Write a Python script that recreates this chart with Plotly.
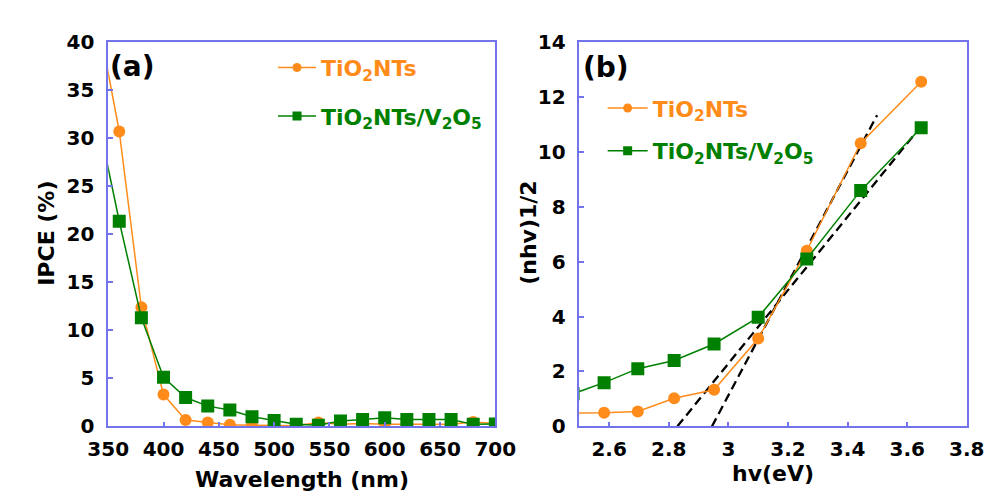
import plotly.graph_objects as go

# ---------------- data ----------------
wavelength = [340, 360, 380, 400, 420, 440, 460, 480, 500, 520, 540, 560, 580, 600, 620, 640, 660, 680, 700]
ipce_tio2 = [42.9, 30.7, 12.4, 3.3, 0.66, 0.4, 0.17, 0.1, 0.05, 0.05, 0.4, 0.2, 0.3, 0.2, 0.2, 0.2, 0.2, 0.45, 0.3]
ipce_tio2_v2o5 = [32.4, 21.35, 11.3, 5.1, 3.0, 2.1, 1.7, 1.0, 0.6, 0.2, 0.1, 0.56, 0.7, 0.9, 0.7, 0.7, 0.7, 0.2, 0.25]

hv = [2.48, 2.583, 2.696, 2.818, 2.952, 3.1, 3.263, 3.444, 3.647]
tauc_tio2 = [0.48, 0.49, 0.54, 1.02, 1.33, 3.2, 6.4, 10.32, 12.56]
tauc_tio2_v2o5 = [1.19, 1.59, 2.1, 2.4, 3.0, 3.97, 6.1, 8.59, 10.88]

fit_tio2_x = [2.945, 3.499]
fit_tio2_y = [0.0, 11.34]
fit_v2o5_x = [2.829, 3.638]
fit_v2o5_y = [0.0, 10.82]

name_tio2 = "TiO<sub>2</sub>NTs"
name_v2o5 = "TiO<sub>2</sub>NTs/V<sub>2</sub>O<sub>5</sub>"

ORANGE = "#ff8c1a"
GREEN = "#008000"
AXBLUE = "rgb(115,115,235)"
FONT = "DejaVu Sans"

W, H = 1006, 504

def px(x):
    return x / W

def py(y):
    return 1 - y / H

fig = go.Figure()

# ---------------- panel (a) ----------------
fig.add_trace(go.Scatter(x=wavelength, y=ipce_tio2, mode="lines+markers",
                         line=dict(color=ORANGE, width=1.5),
                         marker=dict(symbol="circle", size=12, color=ORANGE, line=dict(width=0)),
                         showlegend=False, xaxis="x", yaxis="y"))
fig.add_trace(go.Scatter(x=wavelength, y=ipce_tio2_v2o5, mode="lines+markers",
                         line=dict(color=GREEN, width=1.5),
                         marker=dict(symbol="square", size=13, color=GREEN, line=dict(width=0)),
                         showlegend=False, xaxis="x", yaxis="y"))

# ---------------- panel (b) ----------------
fig.add_trace(go.Scatter(x=fit_tio2_x, y=fit_tio2_y, mode="lines",
                         line=dict(color="black", width=2.3, dash="9px,5px"),
                         showlegend=False, xaxis="x2", yaxis="y2"))
fig.add_trace(go.Scatter(x=fit_v2o5_x, y=fit_v2o5_y, mode="lines",
                         line=dict(color="black", width=2.3, dash="9px,5px"),
                         showlegend=False, xaxis="x2", yaxis="y2"))
fig.add_trace(go.Scatter(x=hv, y=tauc_tio2, mode="lines+markers",
                         line=dict(color=ORANGE, width=1.5),
                         marker=dict(symbol="circle", size=12, color=ORANGE, line=dict(width=0)),
                         showlegend=False, xaxis="x2", yaxis="y2"))
fig.add_trace(go.Scatter(x=hv, y=tauc_tio2_v2o5, mode="lines+markers",
                         line=dict(color=GREEN, width=1.5),
                         marker=dict(symbol="square", size=13, color=GREEN, line=dict(width=0)),
                         showlegend=False, xaxis="x2", yaxis="y2"))

# ---------------- legend entries (one legend per row) ----------------
legend_specs = [
    ("legend", name_tio2, ORANGE, "circle", "x", "y"),
    ("legend2", name_v2o5, GREEN, "square", "x", "y"),
    ("legend3", name_tio2, ORANGE, "circle", "x2", "y2"),
    ("legend4", name_v2o5, GREEN, "square", "x2", "y2"),
]
for lg, nm, col, sym, xa, ya in legend_specs:
    fig.add_trace(go.Scatter(x=[None], y=[None], mode="lines+markers", name=nm,
                             line=dict(color=col, width=1.5),
                             marker=dict(symbol=sym, size=9, color=col, line=dict(width=0)),
                             legend=lg, showlegend=True, xaxis=xa, yaxis=ya))

def legend_cfg(x, y, col, iw):
    return dict(x=px(x), y=py(y), xanchor="left", yanchor="middle",
                bgcolor="rgba(0,0,0,0)", borderwidth=0, itemwidth=iw,
                font=dict(family=FONT, size=22, color=col, weight="bold"))

axis_common = dict(showline=True, mirror=True, linecolor=AXBLUE, linewidth=1.5,
                   ticks="inside", ticklen=5, tickwidth=1.5, tickcolor=AXBLUE,
                   showgrid=False, zeroline=False,
                   tickfont=dict(family=FONT, size=20, color="black", weight="bold"))

fig.update_layout(
    width=W, height=H, margin=dict(l=0, r=0, t=0, b=0),
    paper_bgcolor="white", plot_bgcolor="white",
    xaxis=dict(domain=[px(91), px(495)], range=[350, 700], dtick=50, tick0=350,
               anchor="y", ticklabelstandoff=4, **axis_common),
    yaxis=dict(domain=[py(435), py(31.7)], range=[0, 40], dtick=5, tick0=0,
               anchor="x", ticklabelstandoff=8, **axis_common),
    xaxis2=dict(domain=[px(582.7), px(987)], range=[2.5, 3.8], dtick=0.2, tick0=2.6,
                anchor="y2", ticklabelstandoff=4, **axis_common),
    yaxis2=dict(domain=[py(435), py(31.7)], range=[0, 14], dtick=2, tick0=0,
                anchor="x2", ticklabelstandoff=8, **axis_common),
    legend=legend_cfg(263, 58.5, ORANGE, 38),
    legend2=legend_cfg(263, 109.5, GREEN, 38),
    legend3=legend_cfg(607, 101, ORANGE, 40),
    legend4=legend_cfg(607, 146, GREEN, 40),
)

title_font = dict(family=FONT, size=22, color="black", weight="bold")
annotations = [
    dict(text="Wavelength (nm)", x=px(293), y=py(491), font=title_font),
    dict(text="hv(eV)", x=px(785), y=py(485), font=title_font),
    dict(text="IPCE (%)", x=px(27), y=py(232), textangle=-90, font=title_font),
    dict(text="(nhv)1/2", x=px(530), y=py(232), textangle=-90, font=title_font),
    dict(text="(a)", x=px(116), y=py(57), font=dict(family=FONT, size=28, color="black", weight="bold")),
    dict(text="(b)", x=px(611), y=py(58), font=dict(family=FONT, size=28, color="black", weight="bold")),
]
for a in annotations:
    a.update(xref="paper", yref="paper", xanchor="center", yanchor="middle", showarrow=False)
fig.update_layout(annotations=annotations)

fig.write_html("out.html")
